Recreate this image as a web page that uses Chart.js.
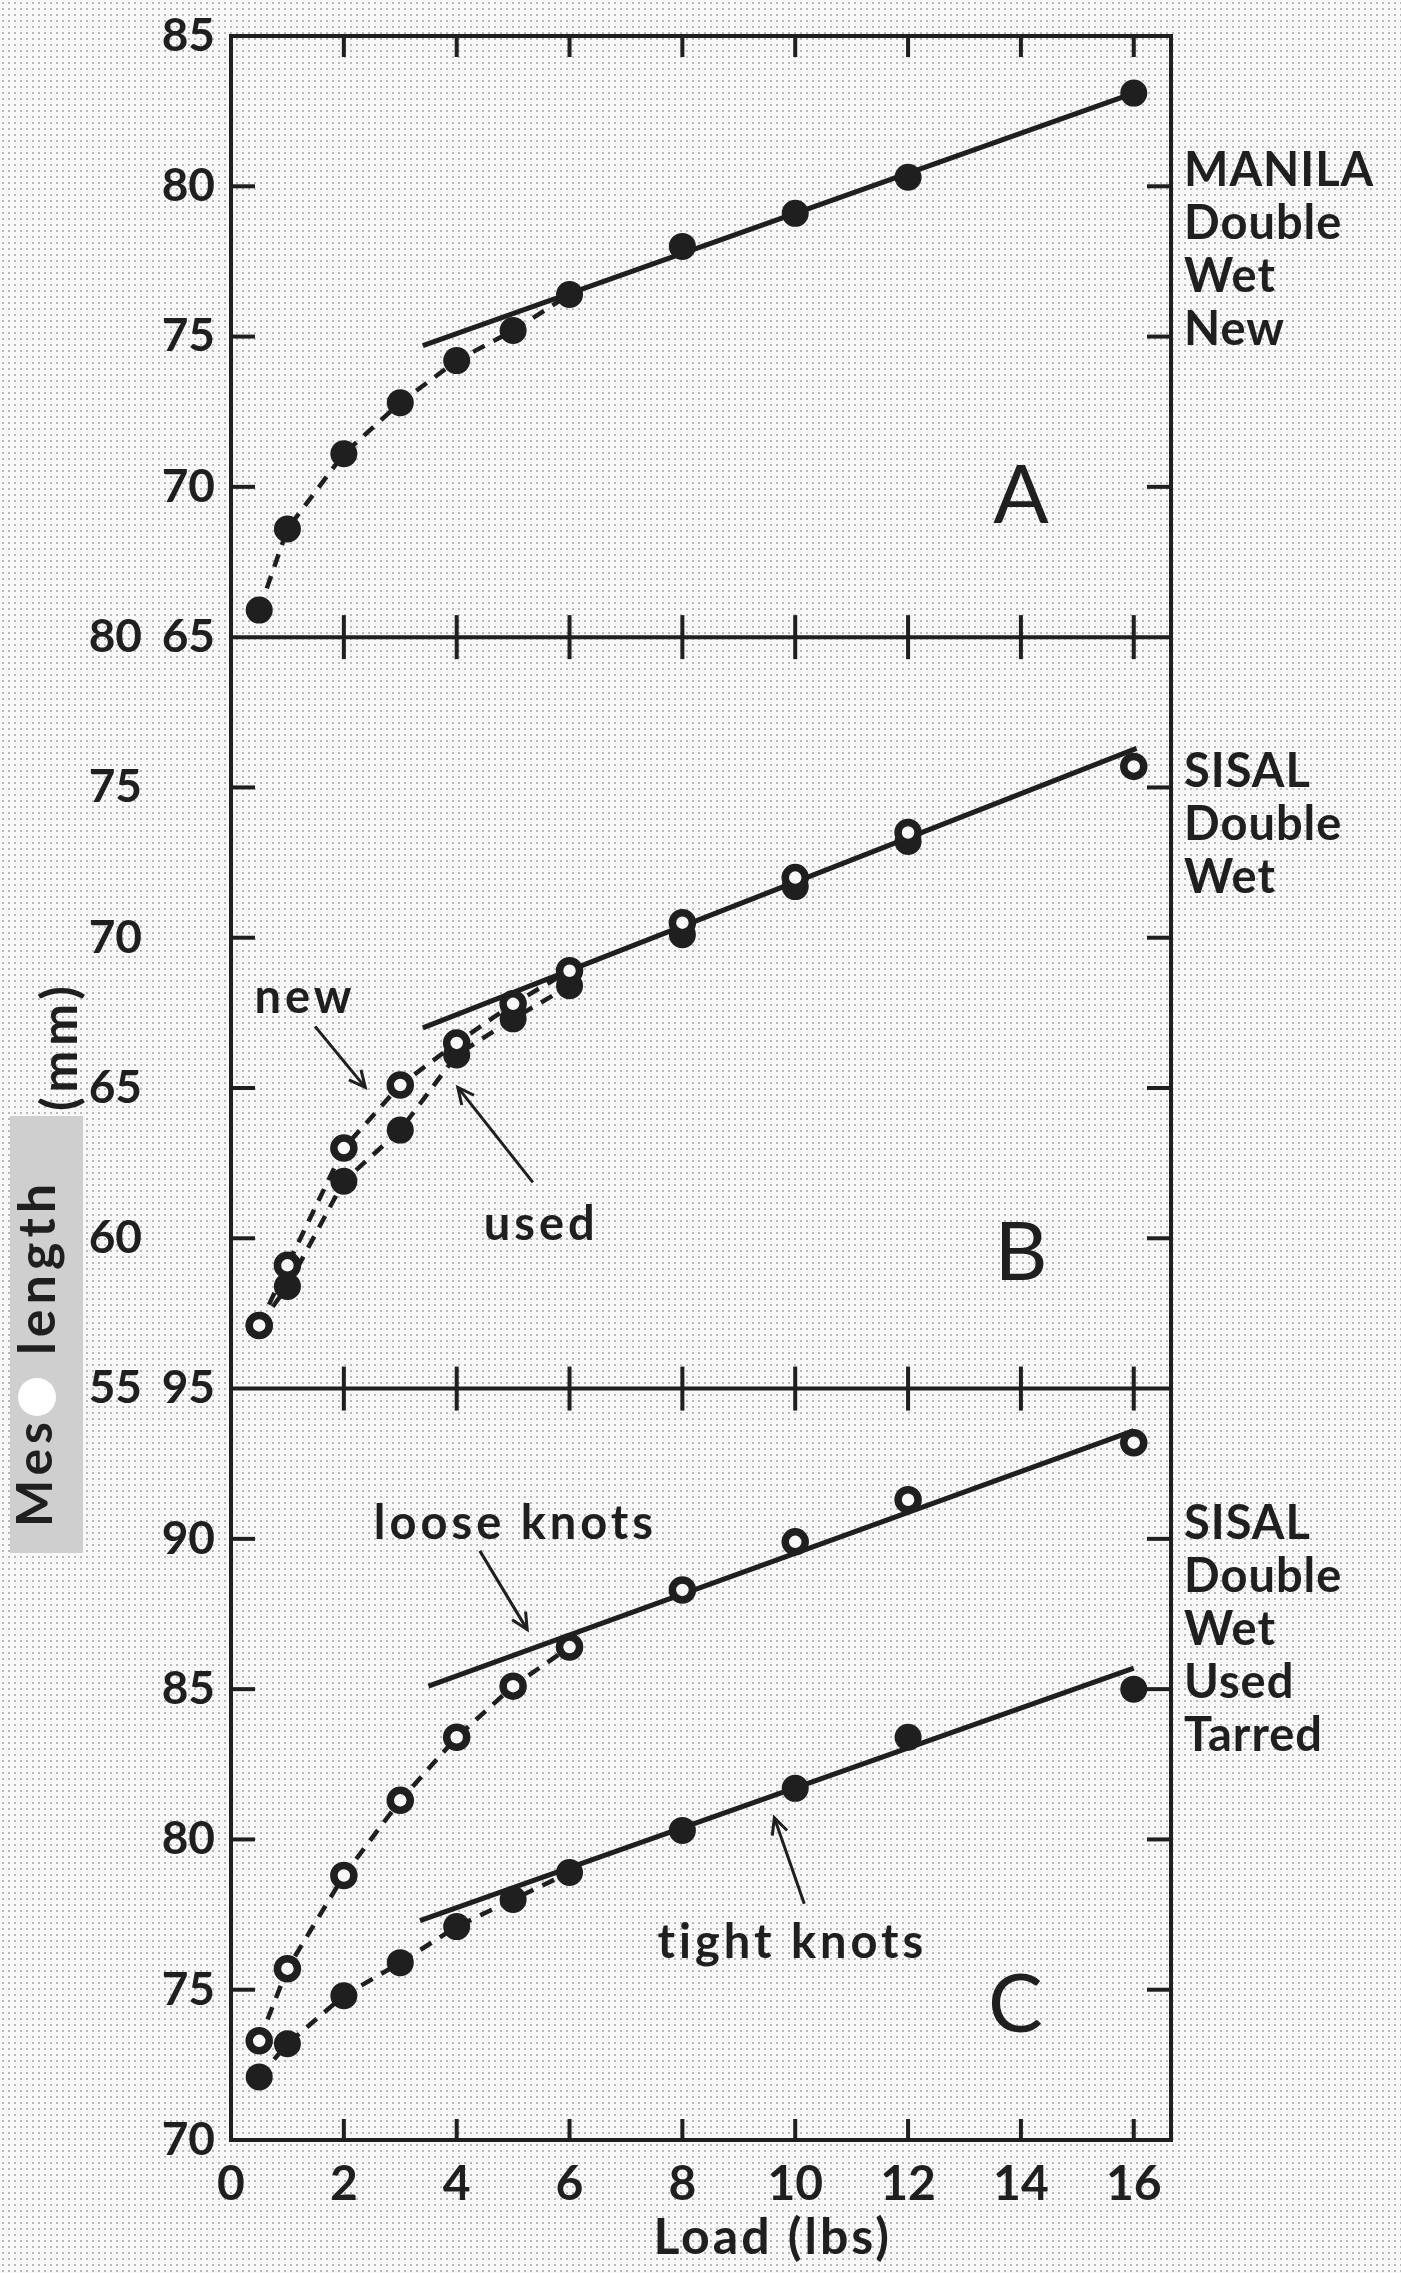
<!DOCTYPE html>
<html>
<head>
<meta charset="utf-8">
<title>Mesh length against load</title>
<script src="https://cdn.jsdelivr.net/npm/chart.js@4.4.1/dist/chart.umd.min.js"></script>
<style>
  html, body { margin: 0; padding: 0; }
  body {
    width: 1401px; height: 2273px; overflow: hidden;
    background-color: #f8f8f8;
    background-image: radial-gradient(circle, rgba(80,80,80,0.38) 0.8px, transparent 1.3px);
    background-size: 6px 6px;
  }
  canvas { display: block; }
</style>
</head>
<body>
<canvas id="meshChart" width="1401" height="2273"></canvas>
<script>
// loads (lbs) at which the meshes were measured
const loads = [0.5, 1, 2, 3, 4, 5, 6, 8, 10, 12, 16];

// A - manila, double, wet, new
const manilaNew = [65.9, 68.6, 71.1, 72.8, 74.2, 75.2, 76.4, 78.0, 79.1, 80.3, 83.1];
const manilaFitLoads = [3.4, 16];
const manilaFit = [74.7, 83.1];

// B - sisal, double, wet
const sisalNew = [57.1, 59.1, 63.0, 65.1, 66.5, 67.8, 68.9, 70.5, 72.0, 73.5, 75.7];
const sisalUsed = [57.1, 58.4, 61.9, 63.6, 66.1, 67.3, 68.4, 70.1, 71.7, 73.2, null];
const sisalFitLoads = [3.4, 16.05];
const sisalFit = [67.0, 76.3];

// C - sisal, double, wet, used, tarred
const looseKnots = [73.3, 75.7, 78.8, 81.3, 83.4, 85.1, 86.4, 88.3, 89.9, 91.3, 93.2];
const tightKnots = [72.1, 73.2, 74.8, 75.9, 77.1, 78.0, 78.9, 80.3, 81.7, 83.4, 85.0];
const looseFitLoads = [3.5, 16];
const looseFit = [85.1, 93.6];
const tightFitLoads = [3.35, 16];
const tightFit = [77.3, 85.7];

// tick labels
const xTicks = [0, 2, 4, 6, 8, 10, 12, 14, 16];
const yTicksA = [65, 70, 75, 80, 85];
const yTicksB = [55, 60, 65, 70, 75, 80];
const yTicksC = [70, 75, 80, 85, 90, 95];

// texts
const sideA = ['MANILA', 'Double', 'Wet', 'New'];
const sideB = ['SISAL', 'Double', 'Wet'];
const sideC = ['SISAL', 'Double', 'Wet', 'Used', 'Tarred'];

const ink = '#1f1f1f';
const paper = '#f8f8f8';
const FONT = 'Lato, "DejaVu Sans", sans-serif';

const pts = (xs, ys) => xs.map((x, i) => ({ x: x, y: ys[i] }));

// dashed curve up to 6 lbs, markers only beyond
function curve(values, axis, filled, order) {
    return {
        data: pts(loads, values),
        yAxisID: axis,
        showLine: true,
        order: order,
        borderColor: ink,
        borderWidth: 4.5,
        borderDash: [13, 10],
        segment: {
            borderColor: c => c.p0.parsed.x >= 6 ? 'rgba(0,0,0,0)' : undefined,
        },
        pointRadius: filled ? 13.5 : 10,
        pointBorderWidth: filled ? 0 : 7.5,
        pointBackgroundColor: filled ? ink : paper,
        pointBorderColor: ink,
    };
}

function fit(xs, ys, axis) {
    return {
        data: pts(xs, ys),
        yAxisID: axis,
        showLine: true,
        order: 9,
        borderColor: ink,
        borderWidth: 5,
        pointRadius: 0,
    };
}

const panels = [
    { axis: 'yA', ticks: yTicksA, letter: 'A', letterAt: [14, 68.8], side: sideA, sideAt: 80 },
    { axis: 'yB', ticks: yTicksB, letter: 'B', letterAt: [14, 58.6], side: sideB, sideAt: 75 },
    { axis: 'yC', ticks: yTicksC, letter: 'C', letterAt: [13.9, 73.6], side: sideC, sideAt: 90 },
];

// annotation placement in data units
const notes = [
    { axis: 'yB', text: 'new', at: [1.31, 67.5], from: [1.49, 67.05], to: [2.38, 65.02] },
    { axis: 'yB', text: 'used', at: [5.5, 59.93], from: [5.35, 61.86], to: [4.02, 65.02] },
    { axis: 'yC', text: 'loose knots', at: [5.04, 90.0], from: [4.41, 89.6], to: [5.25, 86.98] },
    { axis: 'yC', text: 'tight knots', at: [9.95, 76.06], from: [10.16, 77.86], to: [9.63, 80.72] },
];

function yScale(ticks, weight, stackWeight, pad) {
    return {
        type: 'linear',
        position: 'left',
        stack: 'panels',
        stackWeight: stackWeight,
        weight: weight,
        min: ticks[0],
        max: ticks[ticks.length - 1],
        afterBuildTicks: s => { s.ticks = ticks.map(v => ({ value: v })); },
        afterFit: s => { s.width = 231; s.paddingTop = 0; s.paddingBottom = 0; },
        grid: { display: false },
        border: { display: false },
        ticks: { color: ink, padding: pad, font: { family: FONT, size: 46, weight: 'bold' } },
    };
}

const framePlugin = {
    id: 'frame',
    beforeDatasetsDraw(chart) {
        const { ctx, chartArea: a, scales } = chart;
        const x = scales.x;
        const seg = (x1, y1, x2, y2) => { ctx.beginPath(); ctx.moveTo(x1, y1); ctx.lineTo(x2, y2); ctx.stroke(); };
        ctx.save();
        ctx.strokeStyle = ink;
        ctx.lineWidth = 4;
        ctx.strokeRect(a.left, a.top, a.right - a.left, a.bottom - a.top);
        const joins = [scales.yA.bottom, scales.yB.bottom];
        joins.forEach(b => seg(a.left, b, a.right, b));
        xTicks.slice(1).forEach(v => {
            const px = x.getPixelForValue(v);
            seg(px, a.top, px, a.top + 21);
            joins.forEach(b => seg(px, b - 22, px, b + 22));
            seg(px, a.bottom - 21, px, a.bottom);
        });
        panels.forEach(p => {
            const s = scales[p.axis];
            p.ticks.slice(1, -1).forEach(v => {
                const py = s.getPixelForValue(v);
                seg(a.left, py, a.left + 24, py);
                seg(a.right - 24, py, a.right, py);
            });
        });
        ctx.restore();
    },
    afterDraw(chart) {
        const { ctx, chartArea: a, scales } = chart;
        const x = scales.x;
        ctx.save();
        ctx.fillStyle = ink;
        ctx.strokeStyle = ink;

        // panel letters and side captions
        panels.forEach(p => {
            const s = scales[p.axis];
            ctx.font = '82px ' + FONT;
            ctx.textAlign = 'center';
            ctx.textBaseline = 'alphabetic';
            ctx.fillText(p.letter, x.getPixelForValue(p.letterAt[0]), s.getPixelForValue(p.letterAt[1]));
            ctx.font = 'bold 47px ' + FONT;
            ctx.textAlign = 'left';
            ctx.letterSpacing = '1px';
            const y0 = s.getPixelForValue(p.sideAt);
            p.side.forEach((t, i) => ctx.fillText(t, a.right + 13, y0 + i * 53));
            ctx.letterSpacing = '0px';
        });

        // annotations with arrows
        ctx.font = 'bold 47px ' + FONT;
        ctx.letterSpacing = '4px';
        ctx.textAlign = 'center';
        ctx.lineWidth = 3;
        notes.forEach(n => {
            const s = scales[n.axis];
            ctx.fillText(n.text, x.getPixelForValue(n.at[0]), s.getPixelForValue(n.at[1]));
            const x1 = x.getPixelForValue(n.from[0]), y1 = s.getPixelForValue(n.from[1]);
            const x2 = x.getPixelForValue(n.to[0]), y2 = s.getPixelForValue(n.to[1]);
            ctx.beginPath(); ctx.moveTo(x1, y1); ctx.lineTo(x2, y2); ctx.stroke();
            const ang = Math.atan2(y2 - y1, x2 - x1);
            ctx.beginPath();
            ctx.moveTo(x2 - 18 * Math.cos(ang - 0.45), y2 - 18 * Math.sin(ang - 0.45));
            ctx.lineTo(x2, y2);
            ctx.lineTo(x2 - 18 * Math.cos(ang + 0.45), y2 - 18 * Math.sin(ang + 0.45));
            ctx.stroke();
        });
        ctx.letterSpacing = '0px';

        // x axis title
        ctx.font = 'bold 50px ' + FONT;
        ctx.letterSpacing = '3px';
        ctx.textBaseline = 'middle';
        ctx.fillText('Load (lbs)', x.getPixelForValue(9.6), a.bottom + 98);
        ctx.letterSpacing = '0px';

        // y axis title (scanned with a grey patch and a punched hole)
        ctx.fillStyle = '#cfcfcf';
        ctx.fillRect(10, 1116, 73, 437);
        ctx.fillStyle = '#ffffff';
        ctx.beginPath(); ctx.arc(37, 1397, 19, 0, Math.PI * 2); ctx.fill();
        ctx.fillStyle = ink;
        const vtext = (t, cx, cy, font) => {
            ctx.save();
            ctx.translate(cx, cy);
            ctx.rotate(-Math.PI / 2);
            ctx.font = font;
            ctx.textAlign = 'center';
            ctx.textBaseline = 'middle';
            ctx.fillText(t, 0, 0);
            ctx.restore();
        };
        ctx.letterSpacing = '5px';
        vtext('Mes', 36, 1472, 'bold 50px ' + FONT);
        vtext('length', 38, 1267, 'bold 52px ' + FONT);
        vtext('(mm)', 61, 1046, 'bold 50px ' + FONT);
        ctx.restore();
    },
};

new Chart(document.getElementById('meshChart'), {
    type: 'scatter',
    data: {
        datasets: [
            fit(manilaFitLoads, manilaFit, 'yA'),
            curve(manilaNew, 'yA', true, 2),
            fit(sisalFitLoads, sisalFit, 'yB'),
            curve(sisalUsed, 'yB', true, 2),
            curve(sisalNew, 'yB', false, 1),
            fit(looseFitLoads, looseFit, 'yC'),
            fit(tightFitLoads, tightFit, 'yC'),
            curve(looseKnots, 'yC', false, 1),
            curve(tightKnots, 'yC', true, 2),
        ],
    },
    options: {
        responsive: false,
        animation: false,
        events: [],
        layout: { padding: { top: 36, right: 230, bottom: 0, left: 0 } },
        plugins: { legend: { display: false }, tooltip: { enabled: false } },
        scales: {
            x: {
                type: 'linear',
                position: 'bottom',
                min: 0,
                max: 16.66,
                afterBuildTicks: s => { s.ticks = xTicks.map(v => ({ value: v })); },
                afterFit: s => { s.height = 133; s.paddingLeft = 0; s.paddingRight = 0; },
                grid: { display: false },
                border: { display: false },
                ticks: { color: ink, padding: 8, font: { family: FONT, size: 48, weight: 'bold' } },
            },
            yA: yScale(yTicksA, 3, 20, 8),
            yB: yScale(yTicksB, 2, 25, 81),
            yC: yScale(yTicksC, 1, 25, 8),
        },
    },
    plugins: [framePlugin],
});
</script>
</body>
</html>
